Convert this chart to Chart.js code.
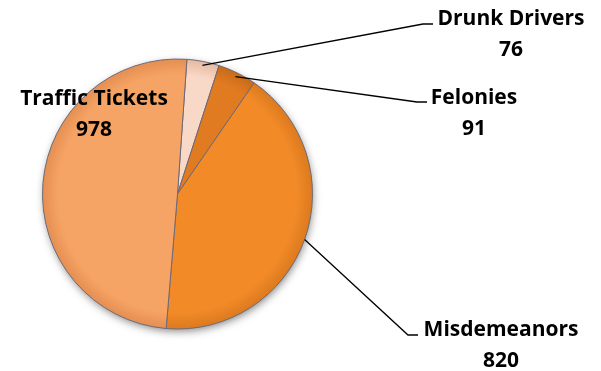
<!DOCTYPE html>
<html lang="en">
<head>
    <meta charset="UTF-8">
    <title>Offenses</title>
    <script src="https://cdn.jsdelivr.net/npm/chart.js"></script>
    <style>
        html, body {
            margin: 0;
            padding: 0;
            background: #ffffff;
        }
        #wrap {
            width: 601px;
            height: 371px;
        }
    </style>
</head>
<body>
    <div id="wrap">
        <canvas id="pieChart" width="601" height="371"></canvas>
    </div>

    <script>
        // Offense counts
        const categories = ['Drunk Drivers', 'Felonies', 'Misdemeanors', 'Traffic Tickets'];
        const counts = [76, 91, 820, 978];

        // Slice colours: inner tone and rim tone
        const innerColors = ['#f8d8c6', '#e07b22', '#f28a28', '#f6a465'];
        const rimColors = ['#e6b9a0', '#c96a18', '#dc7a1e', '#e58f52'];

        // Label boxes (text centre) and leader line elbows
        const labelSpots = [
            { x: 511, y: 19, elbow: [[423, 24], [433, 24]], reach: 0.97 },
            { x: 474, y: 98, elbow: [[417, 102], [427, 102]], reach: 0.97 },
            { x: 501, y: 330, elbow: [[408, 335], [418, 335]], reach: 1.0 },
            { x: 94, y: 99, elbow: null, reach: 0 }
        ];

        const labelFont = 'bold 21px "Open Sans", "DejaVu Sans", sans-serif';

        function sliceFill(ctx) {
            const chart = ctx.chart;
            const area = chart.chartArea;
            if (!area) return innerColors[ctx.dataIndex];
            const cx = (area.left + area.right) / 2;
            const cy = (area.top + area.bottom) / 2;
            const g = chart.ctx.createRadialGradient(cx, cy, 0, cx, cy, 135);
            g.addColorStop(0, innerColors[ctx.dataIndex]);
            g.addColorStop(0.88, innerColors[ctx.dataIndex]);
            g.addColorStop(1, rimColors[ctx.dataIndex]);
            return g;
        }

        // Soft shadow under the whole pie
        const pieShadow = {
            id: 'pieShadow',
            beforeDatasetsDraw(chart) {
                const arc = chart.getDatasetMeta(0).data[0];
                if (!arc) return;
                const c = chart.ctx;
                c.save();
                c.shadowColor = 'rgba(0, 0, 0, 0.5)';
                c.shadowBlur = 9;
                c.shadowOffsetX = 1;
                c.shadowOffsetY = 3;
                c.fillStyle = '#e08a40';
                c.beginPath();
                c.arc(arc.x, arc.y, arc.outerRadius - 1, 0, Math.PI * 2);
                c.fill();
                c.restore();
            }
        };

        // Category name + value, with leader lines
        const pieLabels = {
            id: 'pieLabels',
            afterDatasetsDraw(chart) {
                const c = chart.ctx;
                const arcs = chart.getDatasetMeta(0).data;
                c.save();
                arcs.forEach((arc, i) => {
                    const spot = labelSpots[i];
                    if (spot.elbow) {
                        const mid = (arc.startAngle + arc.endAngle) / 2;
                        const r = arc.outerRadius * spot.reach;
                        c.strokeStyle = '#000000';
                        c.lineWidth = 1.3;
                        c.beginPath();
                        c.moveTo(arc.x + Math.cos(mid) * r, arc.y + Math.sin(mid) * r);
                        c.lineTo(spot.elbow[0][0], spot.elbow[0][1]);
                        c.lineTo(spot.elbow[1][0], spot.elbow[1][1]);
                        c.stroke();
                    }
                    c.fillStyle = '#000000';
                    c.font = labelFont;
                    c.textAlign = 'center';
                    c.textBaseline = 'middle';
                    c.fillText(categories[i], spot.x, spot.y);
                    c.fillText(String(counts[i]), spot.x, spot.y + 31);
                });
                c.restore();
            }
        };

        new Chart(document.getElementById('pieChart'), {
            type: 'pie',
            data: {
                labels: categories,
                datasets: [{
                    data: counts,
                    backgroundColor: sliceFill,
                    borderColor: '#6e6a78',
                    borderWidth: 1
                }]
            },
            options: {
                responsive: false,
                animation: false,
                rotation: 4,
                radius: 135,
                layout: {
                    padding: { left: 20, right: 266, top: 50, bottom: 33 }
                },
                plugins: {
                    legend: { display: false },
                    tooltip: { enabled: false }
                }
            },
            plugins: [pieShadow, pieLabels]
        });
    </script>
</body>
</html>
